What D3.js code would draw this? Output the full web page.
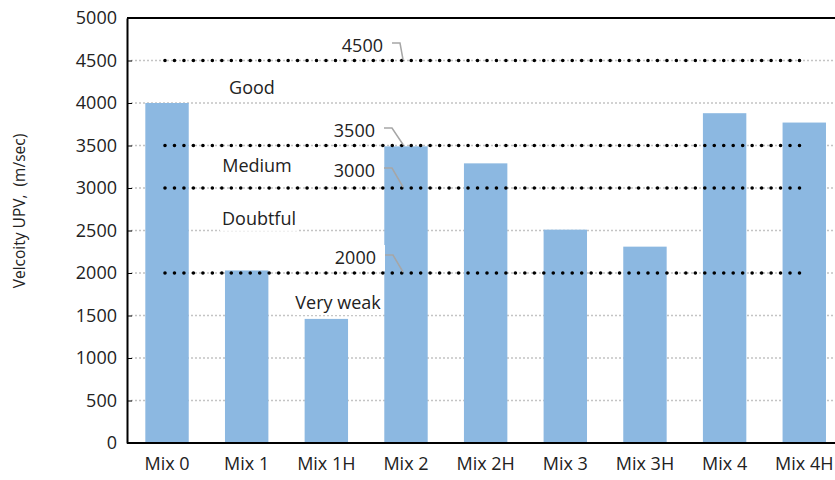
<!DOCTYPE html>
<html>
<head>
<meta charset="utf-8">
<script src="https://cdn.jsdelivr.net/npm/d3@7"></script>
<style>
  body { margin: 0; background: #fff; }
  text { font-family: "Open Sans", "Noto Sans", sans-serif; fill: #222; }
</style>
</head>
<body>
<svg width="835" height="480"></svg>
<script>
// chart values
const mixes = ["Mix 0", "Mix 1", "Mix 1H", "Mix 2", "Mix 2H", "Mix 3", "Mix 3H", "Mix 4", "Mix 4H"];
const velocity = [4000, 2030, 1460, 3490, 3290, 2510, 2310, 3880, 3770];
const yTicks = [0, 500, 1000, 1500, 2000, 2500, 3000, 3500, 4000, 4500, 5000];
const limits = [4500, 3500, 3000, 2000];
const zones = [
  {name: "Good", v: 4180, x: 252, box: false},
  {name: "Medium", v: 3260, x: 257, box: false},
  {name: "Doubtful", v: 2640, x: 259, box: true},
  {name: "Very weak", v: 1650, x: 338, box: true}
];

const svg = d3.select("svg");
const plotLeft = 127, plotTop = 18, plotBottom = 443;
const fs = "18px";

const x = d3.scaleBand(mixes, [plotLeft, plotLeft + 9 * 79.7]).paddingInner(0.455).paddingOuter(0.23);
const y = d3.scaleLinear([0, 5000], [plotBottom, plotTop]);

// grid lines
svg.append("g").selectAll("line").data(yTicks.filter(d => d > 0)).join("line")
  .attr("x1", plotLeft + 4).attr("x2", 835)
  .attr("y1", d => y(d)).attr("y2", d => y(d))
  .attr("stroke", "#c4c4c4").attr("stroke-width", 1.5)
  .attr("stroke-dasharray", "2,2");

// bars
svg.append("g").selectAll("rect").data(velocity).join("rect")
  .attr("x", (d, i) => x(mixes[i]))
  .attr("width", x.bandwidth())
  .attr("y", d => y(d))
  .attr("height", d => y(0) - y(d))
  .attr("fill", "#8cb8e1");

// limit lines (dotted black)
const lx0 = 165, lx1 = 803;
svg.append("g").selectAll("line").data(limits).join("line")
  .attr("x1", lx0).attr("x2", lx1)
  .attr("y1", d => y(d)).attr("y2", d => y(d))
  .attr("stroke", "#000").attr("stroke-width", 3.6)
  .attr("stroke-linecap", "round")
  .attr("stroke-dasharray", "0,9.47");

// zone labels
const zg = svg.append("g").selectAll("g").data(zones).join("g");
const zRect = zg.filter(d => d.box).append("rect").attr("fill", "#fff");
zg.append("text")
  .attr("x", d => d.x).attr("y", d => y(d.v))
  .attr("dy", "0.35em").attr("text-anchor", "middle")
  .style("font-size", fs)
  .text(d => d.name);
zRect.each(function () {
  const t = d3.select(this.parentNode).select("text").node().getBBox();
  d3.select(this).attr("x", t.x - 2).attr("y", t.y + 1).attr("width", t.width + 4).attr("height", t.height);
});

// limit value callouts
const callouts = [
  {v: 4500, ty: 46, tx: 383},
  {v: 3500, ty: 131, tx: 375},
  {v: 3000, ty: 171, tx: 375},
  {v: 2000, ty: 258, tx: 376}
];
const cg = svg.append("g").selectAll("g").data(callouts).join("g");
cg.filter(d => d.v === 2000).append("rect")
  .attr("x", d => d.tx - 48).attr("y", d => d.ty - 13)
  .attr("width", 57).attr("height", 26).attr("fill", "#fff");
cg.append("path")
  .attr("d", d => `M${d.tx + 9},${d.ty - 3}H${d.tx + 17}L403,${y(d.v) - 1}`)
  .attr("fill", "none").attr("stroke", "#a6a6a6").attr("stroke-width", 1.5);
cg.append("text")
  .attr("x", d => d.tx).attr("y", d => d.ty)
  .attr("dy", "0.35em").attr("text-anchor", "end")
  .style("font-size", fs)
  .text(d => d.v);

// axes
const yAxis = svg.append("g").attr("transform", `translate(${plotLeft},0)`)
  .call(d3.axisLeft(y).tickValues(yTicks).tickFormat(d3.format("d"))
    .tickSizeInner(-5).tickSizeOuter(0).tickPadding(10));
yAxis.select(".domain").attr("stroke", "#000").attr("stroke-width", 2);
yAxis.selectAll(".tick line").attr("stroke", "#000");
yAxis.selectAll(".tick text").style("font-size", fs).attr("fill", "#222")
  .style("font-family", '"Open Sans", sans-serif');

const xAxis = svg.append("g").attr("transform", `translate(0,${plotBottom})`)
  .call(d3.axisBottom(x).tickSize(0).tickPadding(14));
xAxis.select(".domain").remove();
xAxis.selectAll(".tick text").style("font-size", fs).attr("fill", "#222")
  .style("font-family", '"Open Sans", sans-serif');

svg.append("line").attr("x1", plotLeft).attr("x2", 835).attr("y1", plotBottom).attr("y2", plotBottom)
  .attr("stroke", "#000").attr("stroke-width", 2);
svg.append("line").attr("x1", plotLeft).attr("x2", 835).attr("y1", plotTop).attr("y2", plotTop)
  .attr("stroke", "#000").attr("stroke-width", 2);

// y title
svg.append("text")
  .attr("transform", `translate(20,211) rotate(-90)`)
  .attr("text-anchor", "middle").attr("dy", "0.35em")
  .style("font-size", "15.5px").style("white-space", "pre")
  .text("Velcoity UPV,  (m/sec)");
</script>
</body>
</html>
